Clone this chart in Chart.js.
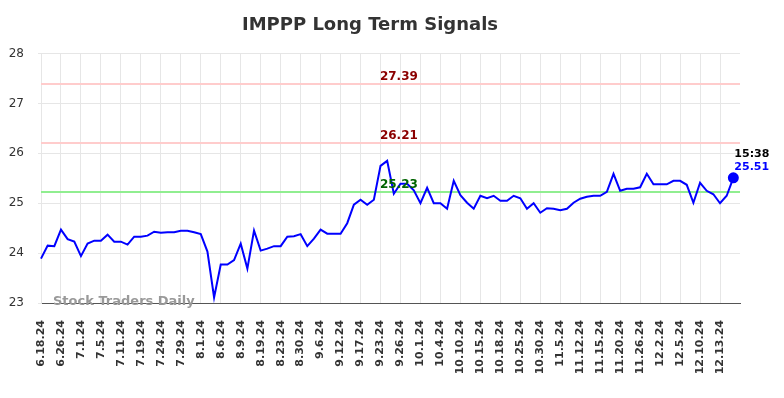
<!DOCTYPE html>
<html>
<head>
<meta charset="utf-8">
<script src="https://cdn.jsdelivr.net/npm/chart.js@4.4.1/dist/chart.umd.min.js"></script>
<style>
  html, body { margin: 0; padding: 0; background: #ffffff; }
  #wrap { width: 784px; height: 398px; position: relative; }
</style>
</head>
<body>
<div id="wrap"><canvas id="c" width="784" height="398"></canvas></div>
<script>
const title = "IMPPP Long Term Signals";
const dates = [
  "6.18.24","6.20.24","6.24.24","6.26.24","6.27.24","6.28.24","7.1.24","7.2.24","7.3.24","7.5.24",
  "7.8.24","7.9.24","7.11.24","7.15.24","7.17.24","7.19.24","7.22.24","7.23.24","7.24.24","7.25.24",
  "7.26.24","7.29.24","7.30.24","7.31.24","8.1.24","8.2.24","8.5.24","8.6.24","8.7.24","8.8.24",
  "8.9.24","8.13.24","8.15.24","8.19.24","8.20.24","8.21.24","8.23.24","8.27.24","8.28.24","8.30.24",
  "9.3.24","9.4.24","9.6.24","9.9.24","9.10.24","9.12.24","9.13.24","9.16.24","9.17.24","9.19.24",
  "9.20.24","9.23.24","9.24.24","9.25.24","9.26.24","9.27.24","9.30.24","10.1.24","10.2.24","10.3.24",
  "10.4.24","10.7.24","10.8.24","10.10.24","10.11.24","10.14.24","10.15.24","10.16.24","10.17.24","10.18.24",
  "10.22.24","10.23.24","10.25.24","10.28.24","10.29.24","10.30.24","10.31.24","11.1.24","11.5.24","11.6.24",
  "11.8.24","11.12.24","11.13.24","11.14.24","11.15.24","11.18.24","11.19.24","11.20.24","11.21.24","11.22.24",
  "11.26.24","11.27.24","11.29.24","12.2.24","12.3.24","12.4.24","12.5.24","12.6.24","12.9.24","12.10.24",
  "12.11.24","12.12.24","12.13.24","12.16.24","12.17.24"
];
const prices = [
  23.89,24.15,24.14,24.47,24.28,24.23,23.94,24.19,24.25,24.25,
  24.37,24.23,24.23,24.17,24.33,24.33,24.35,24.43,24.41,24.42,
  24.42,24.45,24.45,24.42,24.38,24.03,23.11,23.77,23.77,23.86,
  24.19,23.69,24.45,24.05,24.09,24.14,24.14,24.33,24.34,24.38,
  24.14,24.29,24.47,24.39,24.39,24.39,24.60,24.97,25.07,24.97,
  25.07,25.75,25.85,25.19,25.39,25.39,25.26,25.00,25.31,25.00,
  25.00,24.89,25.45,25.16,25.01,24.89,25.15,25.10,25.15,25.05,
  25.05,25.15,25.10,24.89,25.00,24.81,24.90,24.89,24.86,24.89,
  25.01,25.09,25.13,25.15,25.15,25.23,25.59,25.25,25.29,25.29,
  25.32,25.59,25.38,25.38,25.38,25.45,25.45,25.37,25.01,25.41,
  25.25,25.18,25.00,25.15,25.51
];
const resistanceLevels = [27.39, 26.21];
const supportLevels = [25.23];
const yTicks = [23, 24, 25, 26, 27, 28];
const lastTime = "15:38";
const lastPrice = 25.51;
const watermark = "Stock Traders Daily";

// one extra empty slot at the end so the plot runs slightly past the last point
const labels = dates.concat([""]);
const series = prices.concat([null]);
const lastIndex = prices.length - 1;

const overlay = {
  id: 'overlay',
  beforeDatasetsDraw(chart) {
    const { ctx, chartArea: a, scales: { y } } = chart;
    ctx.save();
    ctx.lineWidth = 2;
    ctx.strokeStyle = '#ffcccc';
    resistanceLevels.forEach(v => {
      const py = Math.round(y.getPixelForValue(v));
      ctx.beginPath(); ctx.moveTo(a.left, py); ctx.lineTo(a.right, py); ctx.stroke();
    });
    ctx.strokeStyle = '#90ee90';
    supportLevels.forEach(v => {
      const py = Math.round(y.getPixelForValue(v));
      ctx.beginPath(); ctx.moveTo(a.left, py); ctx.lineTo(a.right, py); ctx.stroke();
    });
    ctx.font = 'bold 13px "DejaVu Sans"';
    ctx.fillStyle = '#999999';
    ctx.textAlign = 'left';
    ctx.textBaseline = 'middle';
    ctx.fillText(watermark, a.left + 12, a.bottom - 1);
    ctx.restore();
  },
  afterDatasetsDraw(chart) {
    const { ctx, chartArea: a, scales: { x, y } } = chart;
    ctx.save();
    const cx = a.left + (a.right - a.left) * 0.512;
    ctx.font = 'bold 12px "DejaVu Sans"';
    ctx.textAlign = 'center';
    ctx.textBaseline = 'alphabetic';
    ctx.fillStyle = '#8b0000';
    resistanceLevels.forEach(v => {
      ctx.fillText(v.toFixed(2), cx, y.getPixelForValue(v) - 4);
    });
    ctx.fillStyle = '#006400';
    supportLevels.forEach(v => {
      ctx.fillText(v.toFixed(2), cx, y.getPixelForValue(v) - 4);
    });
    const px = x.getPixelForValue(lastIndex);
    const py = y.getPixelForValue(lastPrice);
    ctx.font = 'bold 11px "DejaVu Sans"';
    ctx.textAlign = 'left';
    ctx.textBaseline = 'middle';
    ctx.fillStyle = '#000000';
    ctx.fillText(lastTime, px + 1, py - 24);
    ctx.fillStyle = '#0000ff';
    ctx.fillText(lastPrice.toFixed(2), px + 1, py - 11);
    ctx.restore();
  }
};

new Chart(document.getElementById('c'), {
  type: 'line',
  data: {
    labels: labels,
    datasets: [{
      data: series,
      borderColor: '#0000ff',
      backgroundColor: '#0000ff',
      borderWidth: 2,
      tension: 0,
      pointRadius: ctx => ctx.dataIndex === lastIndex ? 4.5 : 0,
      pointHoverRadius: 0,
      spanGaps: false
    }]
  },
  options: {
    responsive: false,
    animation: false,
    devicePixelRatio: 1,
    layout: { padding: { left: 0, right: 44, top: 0, bottom: 0 } },
    plugins: {
      legend: { display: false },
      tooltip: { enabled: false },
      title: {
        display: true,
        text: title,
        color: '#333333',
        font: { family: '"DejaVu Sans"', size: 18, weight: 'bold' },
        padding: { top: 15, bottom: 17 }
      }
    },
    scales: {
      x: {
        offset: false,
        grid: {
          display: true,
          drawTicks: false,
          color: ctx => (ctx.index !== undefined && ctx.index % 3 === 0 && ctx.index <= lastIndex) ? '#e6e6e6' : 'rgba(0,0,0,0)',
          lineWidth: 1
        },
        border: { display: true, color: '#555555', width: 1 },
        ticks: {
          autoSkip: false,
          minRotation: 90,
          maxRotation: 90,
          padding: 17,
          color: '#333333',
          font: { family: '"DejaVu Sans"', size: 11, weight: 'bold' },
          callback: function(val, idx) { return (idx % 3 === 0 && idx <= lastIndex) ? labels[idx] : ''; }
        },
        afterFit: s => { s.height = 95; }
      },
      y: {
        min: yTicks[0],
        max: yTicks[yTicks.length - 1],
        afterBuildTicks: s => { s.ticks = yTicks.map(v => ({ value: v })); },
        grid: { color: '#e6e6e6', lineWidth: 1, tickLength: 3, drawTicks: true },
        border: { display: true, color: '#e6e6e6' },
        ticks: {
          padding: 14,
          color: '#333333',
          font: { family: '"DejaVu Sans"', size: 12 }
        },
        afterFit: s => { s.width = 41; }
      }
    }
  },
  plugins: [overlay]
});
</script>
</body>
</html>
